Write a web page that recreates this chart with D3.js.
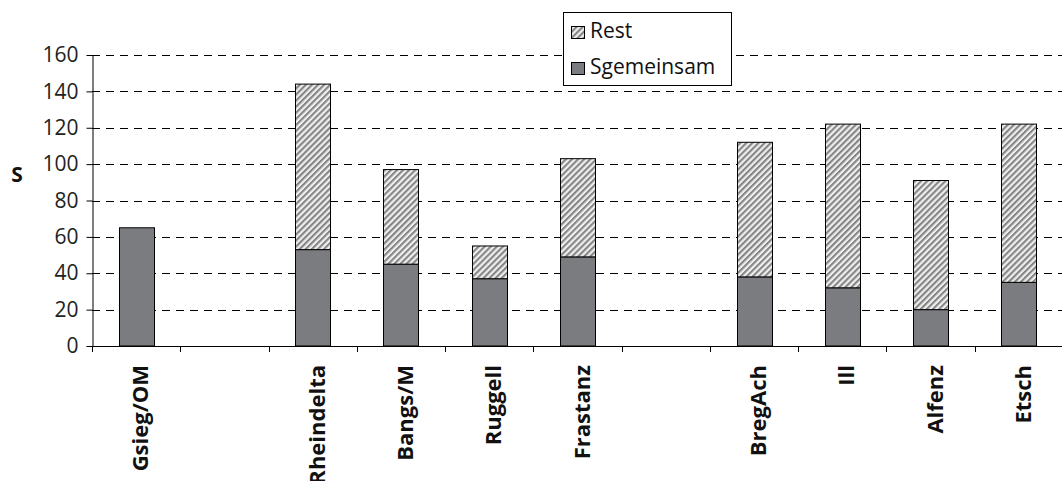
<!DOCTYPE html>
<html><head><meta charset="utf-8">
<script src="https://cdn.jsdelivr.net/npm/d3@7/dist/d3.min.js"></script>
<style>body{margin:0;background:#fff}svg{display:block}</style>
</head><body><svg id="c" width="1062" height="481"></svg>
<script>
const categories = ["Gsieg/OM","_gap1","Rheindelta","Bangs/M","Ruggell","Frastanz","_gap2","BregAch","Ill","Alfenz","Etsch"];
const sGemeinsam = [65,null,53,45,37,49,null,38,32,20,35];
const rest = [0,null,91,52,18,54,null,74,90,71,87];
const yTicks = [0,20,40,60,80,100,120,140,160];
const seriesNames = ["Rest","Sgemeinsam"];

const svg = d3.select("#c");
const font = "'Open Sans', sans-serif";
const defs = svg.append("defs");
const pw = 4.3;
const pat = defs.append("pattern").attr("id","hatch").attr("patternUnits","userSpaceOnUse")
  .attr("width",pw).attr("height",pw).attr("patternTransform","rotate(45)");
pat.append("rect").attr("width",pw).attr("height",pw).attr("fill","#efefef");
pat.append("rect").attr("width",2.1).attr("height",pw).attr("fill","#858585");

const x = d3.scaleBand().domain(categories).range([92,1063]).paddingInner(0.6).paddingOuter(0.3);
const y = d3.scaleLinear().domain([0,160]).range([346,55]);

// gridlines
svg.append("g").selectAll("line").data(yTicks.filter(d=>d>0)).join("line")
  .attr("x1",92).attr("x2",1062).attr("y1",d=>Math.round(y(d))+0.5).attr("y2",d=>Math.round(y(d))+0.5)
  .attr("stroke","#000").attr("stroke-width",1).attr("stroke-dasharray","8,6");

// bars
const data = categories.map((c,i)=>({c,g:sGemeinsam[i],r:rest[i]})).filter(d=>d.g!==null);
const bw = 35;
const bx = d=>Math.round(x(d.c)+x.bandwidth()/2-bw/2)+0.5;
svg.append("g").selectAll("rect").data(data).join("rect")
  .attr("x",bx).attr("width",bw).attr("y",d=>y(d.g)).attr("height",d=>y(0)-y(d.g))
  .attr("fill","#7b7c80").attr("stroke","#000").attr("stroke-width",1);
svg.append("g").selectAll("rect").data(data.filter(d=>d.r>0)).join("rect")
  .attr("x",bx).attr("width",bw).attr("y",d=>y(d.g+d.r)).attr("height",d=>y(d.g)-y(d.g+d.r))
  .attr("fill","url(#hatch)").attr("stroke","#000").attr("stroke-width",1);

// y axis
const ya = svg.append("g").attr("transform","translate(92.5,0)")
  .call(d3.axisLeft(y).tickValues(yTicks).tickSize(6).tickPadding(8).tickSizeOuter(0));
ya.select(".domain").attr("stroke","#000");
ya.selectAll("text").attr("font-family",font).attr("font-size",21).attr("fill","#222");

// x axis with ticks at band boundaries
const step = x.step();
const x0 = 92;
svg.append("line").attr("x1",92).attr("x2",1062).attr("y1",346.5).attr("y2",346.5).attr("stroke","#000");
svg.append("g").selectAll("line").data(d3.range(categories.length+1)).join("line")
  .attr("x1",i=>Math.round(x0+i*step)+0.5).attr("x2",i=>Math.round(x0+i*step)+0.5).attr("y1",346).attr("y2",352).attr("stroke","#000");
svg.append("g").selectAll("text").data(categories.filter(c=>!c.startsWith("_"))).join("text")
  .attr("transform",d=>`translate(${x(d)+x.bandwidth()/2+12},365) rotate(-90)`)
  .attr("text-anchor","end").attr("font-family",font).attr("font-weight","bold").attr("font-size",22)
  .attr("fill","#111").text(d=>d);

// y label
svg.append("text").attr("x",17).attr("y",182).attr("text-anchor","middle")
  .attr("font-family",font).attr("font-weight","bold").attr("font-size",21).attr("fill","#111").text("S");

// legend
const lg = svg.append("g");
lg.append("rect").attr("x",563.5).attr("y",12.5).attr("width",168).attr("height",73)
  .attr("fill","#fff").attr("stroke","#000");
const fills = ["url(#hatch)","#7b7c80"];
seriesNames.forEach((n,i)=>{
  const base = 38 + i*36;
  lg.append("rect").attr("x",571.5).attr("y",base-11.5).attr("width",13).attr("height",12)
    .attr("fill",fills[i]).attr("stroke","#000");
  lg.append("text").attr("x",590).attr("y",base).attr("font-family",font).attr("font-size",21)
    .attr("fill","#111").text(n);
});
</script></body></html>
